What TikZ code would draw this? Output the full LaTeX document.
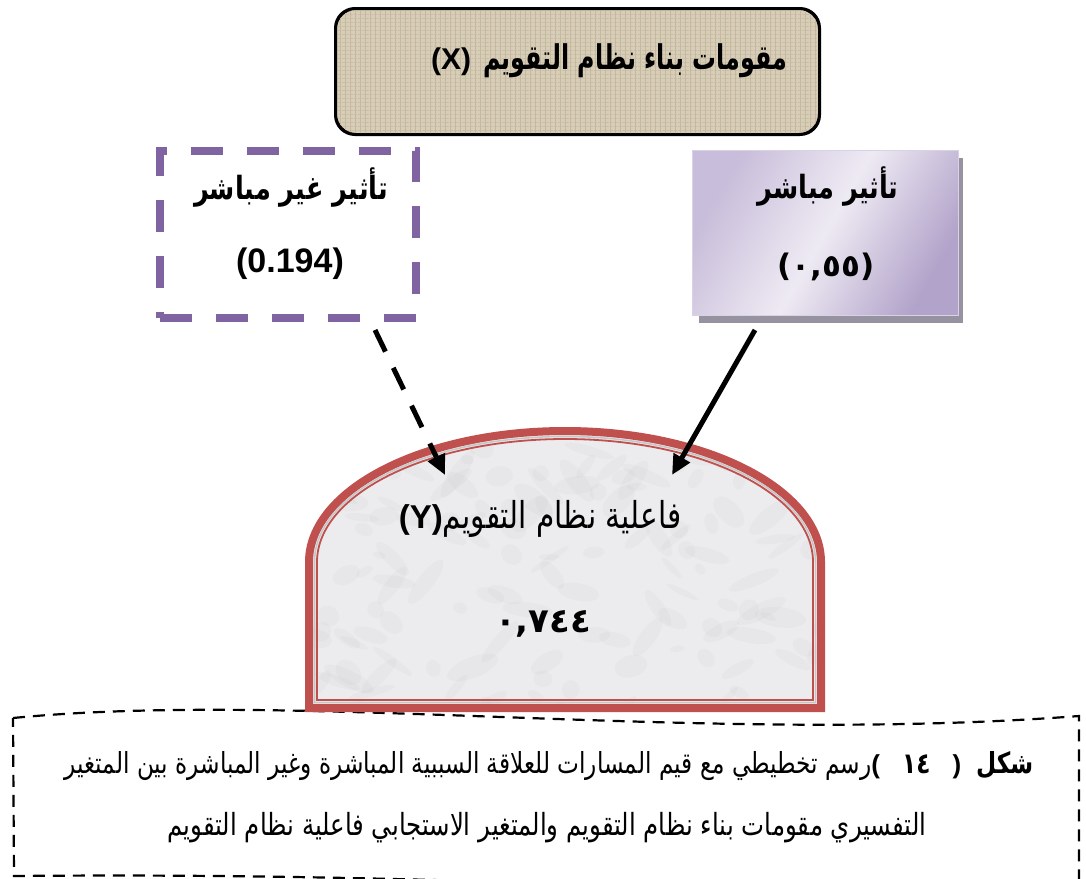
\documentclass[tikz,border=0pt]{standalone}
\usepackage{fontspec}
\setmainfont{Liberation Sans}
\newfontfamily\arabicfont[Script=Arabic]{DejaVu Sans}
\newfontfamily\arabiccond[Script=Arabic,FakeStretch=0.8]{DejaVu Sans}
\newfontfamily\arabictitle[Script=Arabic,FakeStretch=0.7]{DejaVu Sans}
\TeXXeTstate=1
\usetikzlibrary{arrows.meta,patterns.meta}
\definecolor{tan}{RGB}{216,205,182}
\definecolor{tanline}{RGB}{196,184,160}
\definecolor{dpurple}{RGB}{128,100,162}
\definecolor{lavdark}{RGB}{178,163,202}
\definecolor{lavlight}{RGB}{238,234,243}
\definecolor{lavmid}{RGB}{200,189,218}
\definecolor{shadowc}{RGB}{150,146,160}
\definecolor{archred}{RGB}{192,80,77}
\definecolor{marble}{RGB}{236,236,238}
\tikzset{
  boxtext/.style={inner sep=0pt, font=\bfseries\arabiccond\fontsize{32}{36}\selectfont},
  captext/.style={inner sep=0pt, font=\arabiccond\fontsize{29}{33}\selectfont},
  conn/.style={line width=5pt, -{Triangle[length=20pt,width=18pt]}},
}
\begin{document}
\begin{tikzpicture}[x=1pt,y=1pt]
\useasboundingbox (0,0) rectangle (1086,-878);
\clip (0,0) rectangle (1086,-878);

% caption box (wavy, dashed)
\draw[line width=2.2pt, dash pattern=on 12pt off 8pt]
  (13,-718) .. controls (300,-690) and (700,-745) .. (1079,-716)
  -- (1079,-895) .. controls (700,-895) and (450,-872) .. (14,-876) -- cycle;

% top box
\node[draw=black, line width=2pt, rounded corners=20pt, fill=tan,
      minimum width=483pt, minimum height=125pt] (topbox) at (577.5,-71.5) {};
\fill[pattern={Lines[angle=0,distance=4pt,line width=0.7pt]}, pattern color=tanline, rounded corners=19pt]
  (337,-10) rectangle (818,-133);
\fill[pattern={Lines[angle=90,distance=5pt,line width=0.7pt]}, pattern color=tanline, rounded corners=19pt]
  (337,-10) rectangle (818,-133);
\draw[line width=2pt, rounded corners=20pt] (topbox.south west) rectangle (topbox.north east);
\node[boxtext, font=\bfseries\arabictitle\fontsize{34}{38}\selectfont] (xt) at (609,-61)
  {{\rmfamily\fontsize{30}{34}\selectfont(X)}\hspace{12pt}{\beginR مقومات بناء نظام التقويم\endR}};

% indirect box
\node[draw=dpurple, line width=8pt, dash pattern=on 32pt off 24pt, fill=white,
      minimum width=256pt, minimum height=167pt] (ind) at (288,-234.5) {};
\node[boxtext] (indt) at (291,-188) {\beginR تأثير غير مباشر\endR};
\node[boxtext, font=\bfseries\fontsize{34}{38}\selectfont] (indv) at (290,-264) {(0.194)};

% direct box
\fill[shadowc] (699,-158) rectangle (963,-323);
\node[line width=0.8pt, draw=lavmid!70!white, left color=lavmid, right color=lavdark, middle color=lavlight,
      shading angle=60, minimum width=266pt, minimum height=165pt] (dir) at (825,-233) {};
\node[boxtext] (dirt) at (828,-187) {\beginR تأثير مباشر\endR};
\node[boxtext, font=\bfseries\arabicfont\fontsize{31}{35}\selectfont] (dirv) at (826,-267) {(٠,٥٥)};

% arch
\newcommand{\archpath}[1]{%
  (305+#1,-712+#1) -- (305+#1,-562) arc[start angle=180,end angle=0,x radius=260-#1,y radius=135-#1]
  -- (825-#1,-712+#1) -- cycle}
\fill[marble] \archpath{4};
\begin{scope}
  \clip \archpath{4};
  \pgfmathsetseed{7}
  \foreach \i in {1,...,140}{
    \pgfmathsetmacro{\px}{305+520*rnd}
    \pgfmathsetmacro{\py}{-430-285*rnd}
    \pgfmathsetmacro{\rx}{6+22*rnd}
    \pgfmathsetmacro{\ry}{3+8*rnd}
    \pgfmathsetmacro{\ang}{-60+120*rnd}
    \fill[gray, opacity=0.04, rotate around={\ang:(\px,\py)}] (\px,\py) ellipse[x radius=\rx, y radius=\ry];
  }
\end{scope}
\draw[archred, line width=8pt] \archpath{4};
\draw[gray!45, line width=1.5pt] \archpath{9.5};
\draw[archred, line width=1.8pt] \archpath{12};
\node[inner sep=0pt] (arch) at (565,-570) {};
\node[captext, font=\arabiccond\fontsize{37}{40}\selectfont] (archt) at (540,-519)
  {{\rmfamily\bfseries\fontsize{33}{36}\selectfont(Y)}{\beginR فاعلية نظام التقويم\endR}};
\node[boxtext, font=\bfseries\arabicfont\fontsize{34}{38}\selectfont] (archv) at (543,-624) {٠,٧٤٤};

% connectors
\coordinate (indS) at (375,-330);
\coordinate (indE) at (445,-475);
\coordinate (dirS) at (755,-330);
\coordinate (dirE) at (672,-475);
\draw[conn, dash pattern=on 24pt off 18pt] (indS) -- (indE);
\draw[conn] (dirS) -- (dirE);

% caption text
\node[captext] (cap1) at (549,-766)
  {{\beginR رسم تخطيطي مع قيم المسارات للعلاقة السببية المباشرة وغير  المباشرة بين المتغير\endR}{\rmfamily\bfseries\fontsize{26}{30}\selectfont(}\ \ \ {\bfseries ١٤}\ \ \ {\rmfamily\bfseries\fontsize{26}{30}\selectfont)}\ \ {\bfseries\beginR شكل\endR}};
\node[captext, font=\arabiccond\fontsize{30.5}{34}\selectfont] (cap2) at (547,-828)
  {\beginR التفسيري مقومات بناء نظام التقويم  والمتغير الاستجابي فاعلية نظام التقويم\endR};
\end{tikzpicture}
\end{document}
